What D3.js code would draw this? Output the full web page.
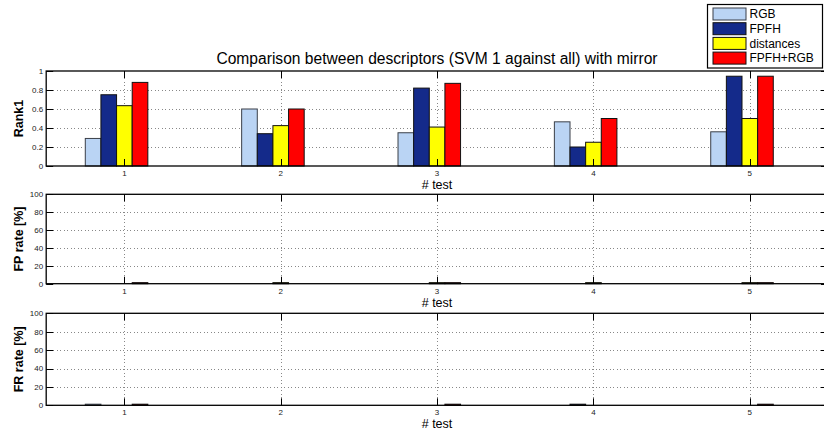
<!DOCTYPE html>
<html>
<head>
<meta charset="utf-8">
<script src="https://cdn.jsdelivr.net/npm/d3@7"></script>
<style>
  body { margin: 0; background: #fff; }
  svg { display: block; font-family: "Liberation Sans", Arial, sans-serif; }
  .grid line { stroke: #888; stroke-width: 1; stroke-dasharray: 1,2.5; shape-rendering: crispEdges; }
  .tick-lbl { font-size: 8px; fill: #222; }
  .ylabel { font-size: 12.5px; font-weight: bold; fill: #000; }
  .xlabel { font-size: 12.5px; fill: #000; }
</style>
</head>
<body>
<div id="chart"></div>
<script>
// categories (# test) and series names
const tests = [1, 2, 3, 4, 5];
const seriesNames = ['RGB', 'FPFH', 'distances', 'FPFH+RGB'];
const seriesColors = ['#bad4f4', '#142a8a', '#ffff00', '#ff0000'];

// Rank1 per series
const rgbRank = [0.29, 0.60, 0.35, 0.465, 0.36];
const fpfhRank = [0.75, 0.34, 0.82, 0.20, 0.945];
const distRank = [0.635, 0.425, 0.41, 0.25, 0.50];
const comboRank = [0.88, 0.60, 0.87, 0.50, 0.945];

// FP rate [%]
const rgbFP = [0, 0, 0, 0, 0];
const fpfhFP = [0, 0, 0, 0, 0];
const distFP = [0, 1.2, 1.2, 1.2, 1.2];
const comboFP = [1.2, 0, 1.2, 0, 1.2];

// FR rate [%]
const rgbFR = [1.2, 0, 0, 0, 0];
const fpfhFR = [0, 0, 0, 1.2, 0];
const distFR = [0, 0, 0, 0, 0];
const comboFR = [1.2, 0, 1.2, 0, 1.2];

const rankTicks = [0, 0.2, 0.4, 0.6, 0.8, 1];
const rateTicks = [0, 20, 40, 60, 80, 100];

const width = 824, height = 434;
const svg = d3.select('#chart').append('svg')
  .attr('width', width)
  .attr('height', height);

// plot area extends past the right edge of the picture, like the original
const x = d3.scaleLinear().domain([0.5, 5.5]).range([46.2, 828]);
// 5 slots per group (last one empty), each 0.1 units wide
const slotW = 0.1;

const panels = [
  { top: 71, bottom: 166, max: 1, ticks: rankTicks, fmt: d => d3.format('')(d), label: 'Rank1',
    data: [rgbRank, fpfhRank, distRank, comboRank] },
  { top: 194.3, bottom: 283.7, max: 100, ticks: rateTicks, fmt: d => d, label: 'FP rate [%]',
    data: [rgbFP, fpfhFP, distFP, comboFP] },
  { top: 313.3, bottom: 405.3, max: 100, ticks: rateTicks, fmt: d => d, label: 'FR rate [%]',
    data: [rgbFR, fpfhFR, distFR, comboFR] }
];

panels.forEach(p => {
  const y = d3.scaleLinear().domain([0, p.max]).range([p.bottom, p.top]);
  const g = svg.append('g');

  // dotted grid
  const grid = g.append('g').attr('class', 'grid');
  grid.selectAll('.hg').data(p.ticks.slice(1, -1)).enter().append('line')
    .attr('x1', x.range()[0]).attr('x2', x.range()[1])
    .attr('y1', d => Math.round(y(d)) + 0.5).attr('y2', d => Math.round(y(d)) + 0.5);
  grid.selectAll('.vg').data(tests).enter().append('line')
    .attr('x1', d => Math.round(x(d)) + 0.5).attr('x2', d => Math.round(x(d)) + 0.5)
    .attr('y1', p.top).attr('y2', p.bottom);

  // bars
  p.data.forEach((vals, si) => {
    g.append('g').selectAll('rect').data(vals).enter().append('rect')
      .attr('x', (d, i) => x(tests[i] + (si - 2.5) * slotW))
      .attr('width', x(slotW) - x(0))
      .attr('y', d => y(d))
      .attr('height', d => y(0) - y(d))
      .attr('fill', seriesColors[si])
      .attr('stroke', si === 0 ? '#3a3f48' : '#111')
      .attr('stroke-width', 1);
  });

  // ticks inside the box
  const tl = 7;
  const tk = g.append('g').attr('stroke', '#000').attr('stroke-width', 1);
  p.ticks.forEach(t => {
    const yy = Math.round(y(t)) + 0.5;
    tk.append('line').attr('x1', x.range()[0]).attr('x2', x.range()[0] + tl).attr('y1', yy).attr('y2', yy);
    tk.append('line').attr('x1', x.range()[1] - tl).attr('x2', x.range()[1]).attr('y1', yy).attr('y2', yy);
  });
  tests.forEach(t => {
    const xx = Math.round(x(t)) + 0.5;
    tk.append('line').attr('x1', xx).attr('x2', xx).attr('y1', p.top).attr('y2', p.top + tl);
    tk.append('line').attr('x1', xx).attr('x2', xx).attr('y1', p.bottom - tl).attr('y2', p.bottom);
  });

  // box
  g.append('rect')
    .attr('x', x.range()[0]).attr('y', p.top)
    .attr('width', x.range()[1] - x.range()[0]).attr('height', p.bottom - p.top)
    .attr('fill', 'none').attr('stroke', '#000').attr('stroke-width', 1.3);

  // tick labels
  g.selectAll('.yl').data(p.ticks).enter().append('text')
    .attr('class', 'tick-lbl')
    .attr('x', x.range()[0] - 3).attr('y', d => y(d))
    .attr('dy', '0.35em').attr('text-anchor', 'end')
    .text(p.fmt);
  g.selectAll('.xl').data(tests).enter().append('text')
    .attr('class', 'tick-lbl')
    .attr('x', d => x(d)).attr('y', p.bottom + 7)
    .attr('dy', '0.35em').attr('text-anchor', 'middle')
    .text(d => d);

  // axis labels
  g.append('text').attr('class', 'xlabel')
    .attr('x', 437).attr('y', p.bottom + 23).attr('text-anchor', 'middle')
    .text('# test');
  g.append('text').attr('class', 'ylabel')
    .attr('transform', `translate(23,${(p.top + p.bottom) / 2}) rotate(-90)`)
    .attr('text-anchor', 'middle')
    .text(p.label);
});

// title
svg.append('text')
  .attr('x', 437).attr('y', 64)
  .attr('text-anchor', 'middle')
  .style('font-size', '15.6px')
  .text('Comparison between descriptors (SVM 1 against all) with mirror');

// legend
const leg = svg.append('g');
leg.append('rect')
  .attr('x', 707.5).attr('y', 4.5).attr('width', 115).attr('height', 63.5)
  .attr('fill', '#fff').attr('stroke', '#000').attr('stroke-width', 1.2);
const rows = leg.selectAll('.row').data(seriesNames).enter().append('g')
  .attr('transform', (d, i) => `translate(0,${14 + i * 14.7})`);
rows.append('rect')
  .attr('x', 713).attr('y', -6).attr('width', 33).attr('height', 12)
  .attr('fill', (d, i) => seriesColors[i])
  .attr('stroke', (d, i) => i === 0 ? '#3a3f48' : '#111');
rows.append('text')
  .attr('x', 749.5).attr('dy', '0.35em')
  .style('font-size', '12px')
  .text(d => d);
</script>
</body>
</html>
